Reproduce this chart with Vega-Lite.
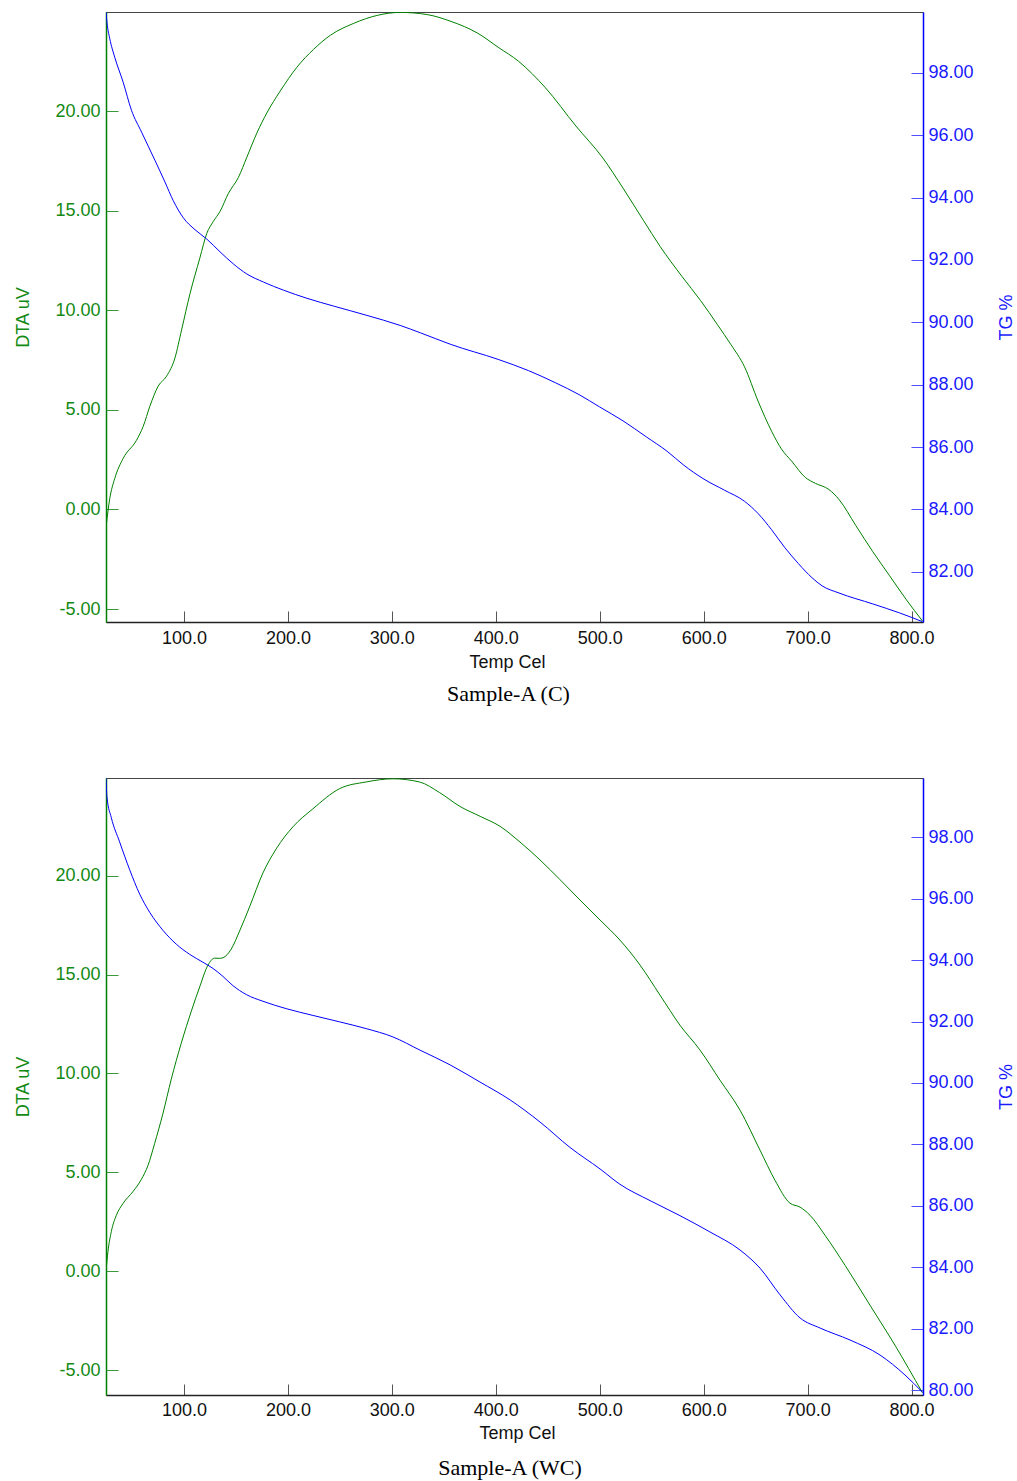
{
  "$schema": "https://vega.github.io/schema/vega-lite/v6.json",
  "padding": {"left": 13, "top": 11, "right": 0, "bottom": 0},
  "spacing": 71,
  "background": "white",
  "config": {
    "view": {"stroke": "#444444", "strokeWidth": 1},
    "axis": {
      "labelFont": "Liberation Sans", "labelFontSize": 18,
      "titleFont": "Liberation Sans", "titleFontSize": 18, "titleFontWeight": "normal",
      "grid": false, "tickWidth": 1, "domainWidth": 1.5,
      "labelFlush": false, "labelOverlap": false
    }
  },
  "datasets": {
    "c_dta": [
      {"T": 25, "v": -0.9}, {"T": 28.6, "v": 0.54}, {"T": 33.4, "v": 1.55}, {"T": 41.5, "v": 2.56}, {"T": 54.3, "v": 3.47},
      {"T": 60.8, "v": 4.17}, {"T": 67.2, "v": 5.18}, {"T": 75.2, "v": 6.19}, {"T": 83.3, "v": 6.69}, {"T": 91.3, "v": 7.6},
      {"T": 97.7, "v": 9.01}, {"T": 105.8, "v": 10.83}, {"T": 115.4, "v": 12.64}, {"T": 121.9, "v": 13.85}, {"T": 128.3, "v": 14.46},
      {"T": 134.7, "v": 14.96}, {"T": 142.8, "v": 15.87}, {"T": 152.4, "v": 16.67}, {"T": 160.5, "v": 17.68}, {"T": 170.1, "v": 18.89},
      {"T": 179.7, "v": 19.9}, {"T": 192.6, "v": 21.0}, {"T": 208.7, "v": 22.2}, {"T": 224.8, "v": 23.1}, {"T": 240.8, "v": 23.8},
      {"T": 263.3, "v": 24.4}, {"T": 285.9, "v": 24.8}, {"T": 308, "v": 24.95}, {"T": 334, "v": 24.84}, {"T": 356.8, "v": 24.5},
      {"T": 382.8, "v": 23.9}, {"T": 402.3, "v": 23.2}, {"T": 421.8, "v": 22.5}, {"T": 447.7, "v": 21.17}, {"T": 477, "v": 19.25},
      {"T": 503, "v": 17.64}, {"T": 522.4, "v": 16.13}, {"T": 541.9, "v": 14.52}, {"T": 558.1, "v": 13.2}, {"T": 579.2, "v": 11.69},
      {"T": 597.1, "v": 10.48}, {"T": 613.3, "v": 9.27}, {"T": 626.3, "v": 8.27}, {"T": 639.3, "v": 7.16}, {"T": 652.3, "v": 5.44},
      {"T": 665.3, "v": 3.93}, {"T": 675, "v": 3.02}, {"T": 684.7, "v": 2.42}, {"T": 697.7, "v": 1.61}, {"T": 707.5, "v": 1.31},
      {"T": 720.5, "v": 1.0}, {"T": 730.2, "v": 0.5}, {"T": 746.4, "v": -0.81}, {"T": 762.7, "v": -2.12}, {"T": 778.9, "v": -3.33},
      {"T": 795.1, "v": -4.54}, {"T": 810.5, "v": -5.6}
    ],
    "c_tg": [
      {"T": 25, "v": 99.95}, {"T": 26, "v": 99.6}, {"T": 28.6, "v": 99.1}, {"T": 33.4, "v": 98.5}, {"T": 41.5, "v": 97.7},
      {"T": 49.5, "v": 96.8}, {"T": 59.2, "v": 96.1}, {"T": 72, "v": 95.2}, {"T": 81.7, "v": 94.5}, {"T": 89.7, "v": 93.9},
      {"T": 99.4, "v": 93.35}, {"T": 110.6, "v": 92.97}, {"T": 121.9, "v": 92.67}, {"T": 134.7, "v": 92.26}, {"T": 147.6, "v": 91.87},
      {"T": 160.5, "v": 91.55}, {"T": 176.5, "v": 91.29}, {"T": 195.8, "v": 91.03}, {"T": 218.3, "v": 90.77}, {"T": 244, "v": 90.52},
      {"T": 276.2, "v": 90.22}, {"T": 308, "v": 89.9}, {"T": 327.7, "v": 89.66}, {"T": 356.8, "v": 89.29}, {"T": 402.3, "v": 88.81}, {"T": 431.5, "v": 88.45},
      {"T": 457.5, "v": 88.06}, {"T": 480.2, "v": 87.68}, {"T": 499.7, "v": 87.29}, {"T": 522.4, "v": 86.84}, {"T": 545.1, "v": 86.32},
      {"T": 564.6, "v": 85.87}, {"T": 580.8, "v": 85.42}, {"T": 600.3, "v": 84.97}, {"T": 619.8, "v": 84.62}, {"T": 639.3, "v": 84.26},
      {"T": 652.3, "v": 83.87}, {"T": 665.3, "v": 83.35}, {"T": 678.2, "v": 82.77}, {"T": 691.2, "v": 82.26}, {"T": 704.2, "v": 81.81},
      {"T": 713.9, "v": 81.55}, {"T": 730.2, "v": 81.32}, {"T": 762.7, "v": 80.97}, {"T": 788.6, "v": 80.68}, {"T": 810.5, "v": 80.4}
    ],
    "wc_dta": [
      {"T": 25, "v": 0}, {"T": 26.9, "v": 1.0}, {"T": 30.1, "v": 2.0}, {"T": 34.9, "v": 2.82}, {"T": 41.3, "v": 3.42},
      {"T": 51, "v": 4.03}, {"T": 59, "v": 4.64}, {"T": 65.4, "v": 5.35}, {"T": 71.8, "v": 6.46}, {"T": 79.8, "v": 7.98},
      {"T": 87.8, "v": 9.71}, {"T": 97.4, "v": 11.53}, {"T": 107.1, "v": 13.15}, {"T": 115.1, "v": 14.37}, {"T": 123.1, "v": 15.48},
      {"T": 129.5, "v": 15.83}, {"T": 134, "v": 15.82}, {"T": 137.5, "v": 15.85}, {"T": 145.5, "v": 16.29}, {"T": 153.5, "v": 17.2},
      {"T": 163.1, "v": 18.42}, {"T": 176, "v": 20.14}, {"T": 188.8, "v": 21.36}, {"T": 204.8, "v": 22.47}, {"T": 224, "v": 23.38},
      {"T": 249.7, "v": 24.4}, {"T": 275.3, "v": 24.74}, {"T": 301, "v": 24.9}, {"T": 326.6, "v": 24.74}, {"T": 346, "v": 24.2},
      {"T": 365.6, "v": 23.5}, {"T": 385, "v": 23.0}, {"T": 404, "v": 22.5}, {"T": 423.3, "v": 21.7}, {"T": 442.5, "v": 20.8},
      {"T": 461.8, "v": 19.8}, {"T": 481, "v": 18.77}, {"T": 500.3, "v": 17.76}, {"T": 519.5, "v": 16.74}, {"T": 538.8, "v": 15.48},
      {"T": 558, "v": 13.96}, {"T": 577.2, "v": 12.44}, {"T": 596.5, "v": 11.18}, {"T": 615.7, "v": 9.66}, {"T": 635, "v": 8.14},
      {"T": 654.2, "v": 6.12}, {"T": 668.6, "v": 4.6}, {"T": 683, "v": 3.44}, {"T": 692.7, "v": 3.24}, {"T": 702.3, "v": 2.83},
      {"T": 716.7, "v": 1.82}, {"T": 736, "v": 0.3}, {"T": 760, "v": -1.72}, {"T": 784, "v": -3.74}, {"T": 810.5, "v": -6.15}
    ],
    "wc_tg": [
      {"T": 25, "v": 99.93}, {"T": 26, "v": 99.29}, {"T": 30.1, "v": 98.64}, {"T": 38.1, "v": 97.85}, {"T": 47.8, "v": 96.94},
      {"T": 57.4, "v": 96.15}, {"T": 67, "v": 95.56}, {"T": 79.8, "v": 94.97}, {"T": 92.6, "v": 94.52}, {"T": 105.4, "v": 94.19},
      {"T": 118.3, "v": 93.93}, {"T": 127.9, "v": 93.73}, {"T": 137.5, "v": 93.47}, {"T": 147.1, "v": 93.17}, {"T": 159.9, "v": 92.88},
      {"T": 176, "v": 92.66}, {"T": 198.4, "v": 92.42}, {"T": 224, "v": 92.2}, {"T": 249.7, "v": 91.99}, {"T": 275.3, "v": 91.77},
      {"T": 301, "v": 91.5}, {"T": 327, "v": 91.07}, {"T": 356, "v": 90.59}, {"T": 384.8, "v": 90.03}, {"T": 413.7, "v": 89.45},
      {"T": 442.5, "v": 88.73}, {"T": 471.4, "v": 87.9}, {"T": 500.3, "v": 87.2}, {"T": 519.5, "v": 86.7}, {"T": 548.4, "v": 86.17},
      {"T": 577.2, "v": 85.68}, {"T": 606, "v": 85.15}, {"T": 635, "v": 84.56}, {"T": 654.2, "v": 83.97}, {"T": 673.5, "v": 83.1},
      {"T": 692.7, "v": 82.35}, {"T": 712, "v": 82.02}, {"T": 740.8, "v": 81.63}, {"T": 769.7, "v": 81.14}, {"T": 793.7, "v": 80.49},
      {"T": 810.5, "v": 79.93}
    ]
  },
  "vconcat": [
    {
      "width": 817, "height": 610,
      "title": {"text": "Sample-A (C)", "orient": "bottom", "anchor": "middle", "frame": "group", "font": "Liberation Serif", "fontSize": 22, "fontWeight": "normal", "color": "#000000", "offset": 13, "dx": -6},
      "layer": [
        {
          "data": {"name": "c_dta"},
          "mark": {"type": "line", "color": "#008000", "strokeWidth": 1, "interpolate": "monotone", "clip": true},
          "encoding": {
            "x": {"field": "T", "type": "quantitative", "scale": {"domain": [25, 811], "nice": false, "zero": false},
              "axis": {"values": [100, 200, 300, 400, 500, 600, 700, 800], "format": ".1f", "title": "Temp Cel", "tickSize": -11, "tickColor": "#555555", "domainColor": "#222222", "labelColor": "#111111", "titleColor": "#111111", "labelPadding": 18, "titleY": 31, "titleX": 401, "titleBaseline": "top"}},
            "y": {"field": "v", "type": "quantitative", "scale": {"domain": [-5.65, 24.97], "nice": false, "zero": false},
              "axis": {"orient": "left", "values": [-5, 0, 5, 10, 15, 20], "labelExpr": "datum.value < 0 ? '-' + format(-datum.value, '.2f') : format(datum.value, '.2f')", "title": "DTA uV", "tickSize": -12, "tickColor": "#3a9a3a", "domainColor": "#008000", "labelColor": "#138a13", "titleColor": "#138a13", "labelPadding": 18, "titleX": -83, "titleAngle": 270, "titleBaseline": "middle"}}
          }
        },
        {
          "data": {"name": "c_tg"},
          "mark": {"type": "line", "color": "#0000ff", "strokeWidth": 1, "interpolate": "monotone", "clip": true},
          "encoding": {
            "x": {"field": "T", "type": "quantitative", "scale": {"domain": [25, 811], "nice": false, "zero": false},
              "axis": {"values": [100, 200, 300, 400, 500, 600, 700, 800], "format": ".1f", "title": "Temp Cel", "tickSize": -11, "tickColor": "#555555", "domainColor": "#222222", "labelColor": "#111111", "titleColor": "#111111", "labelPadding": 18, "titleY": 31, "titleX": 401, "titleBaseline": "top"}},
            "y": {"field": "v", "type": "quantitative", "scale": {"domain": [80.39, 99.95], "nice": false, "zero": false},
              "axis": {"orient": "right", "values": [82, 84, 86, 88, 90, 92, 94, 96, 98], "format": ".2f", "title": "TG %", "tickSize": -12, "tickColor": "#5050ff", "domainColor": "#0000ff", "labelColor": "#1a1aff", "titleColor": "#1a1aff", "labelPadding": 17, "titleX": 83, "titleAngle": 270, "titleBaseline": "middle"}}
          }
        }
      ],
      "resolve": {"scale": {"y": "independent"}}
    },
    {
      "width": 817, "height": 617,
      "title": {"text": "Sample-A (WC)", "orient": "bottom", "anchor": "middle", "frame": "group", "font": "Liberation Serif", "fontSize": 22, "fontWeight": "normal", "color": "#000000", "offset": 16, "dx": -4.5},
      "layer": [
        {
          "data": {"name": "wc_dta"},
          "mark": {"type": "line", "color": "#008000", "strokeWidth": 1, "interpolate": "monotone", "clip": true},
          "encoding": {
            "x": {"field": "T", "type": "quantitative", "scale": {"domain": [25, 811], "nice": false, "zero": false},
              "axis": {"values": [100, 200, 300, 400, 500, 600, 700, 800], "format": ".1f", "title": "Temp Cel", "tickSize": -11, "tickColor": "#555555", "domainColor": "#222222", "labelColor": "#111111", "titleColor": "#111111", "labelPadding": 17, "titleY": 29, "titleX": 411, "titleBaseline": "top"}},
            "y": {"field": "v", "type": "quantitative", "scale": {"domain": [-6.26, 24.94], "nice": false, "zero": false},
              "axis": {"orient": "left", "values": [-5, 0, 5, 10, 15, 20], "labelExpr": "datum.value < 0 ? '-' + format(-datum.value, '.2f') : format(datum.value, '.2f')", "title": "DTA uV", "tickSize": -12, "tickColor": "#3a9a3a", "domainColor": "#008000", "labelColor": "#138a13", "titleColor": "#138a13", "labelPadding": 18, "titleX": -83, "titleAngle": 270, "titleBaseline": "middle"}}
          }
        },
        {
          "data": {"name": "wc_tg"},
          "mark": {"type": "line", "color": "#0000ff", "strokeWidth": 1, "interpolate": "monotone", "clip": true},
          "encoding": {
            "x": {"field": "T", "type": "quantitative", "scale": {"domain": [25, 811], "nice": false, "zero": false},
              "axis": {"values": [100, 200, 300, 400, 500, 600, 700, 800], "format": ".1f", "title": "Temp Cel", "tickSize": -11, "tickColor": "#555555", "domainColor": "#222222", "labelColor": "#111111", "titleColor": "#111111", "labelPadding": 17, "titleY": 29, "titleX": 411, "titleBaseline": "top"}},
            "y": {"field": "v", "type": "quantitative", "scale": {"domain": [79.84, 99.93], "nice": false, "zero": false},
              "axis": {"orient": "right", "values": [80, 82, 84, 86, 88, 90, 92, 94, 96, 98], "format": ".2f", "title": "TG %", "tickSize": -12, "tickColor": "#5050ff", "domainColor": "#0000ff", "labelColor": "#1a1aff", "titleColor": "#1a1aff", "labelPadding": 17, "titleX": 83, "titleAngle": 270, "titleBaseline": "middle"}}
          }
        }
      ],
      "resolve": {"scale": {"y": "independent"}}
    }
  ]
}
